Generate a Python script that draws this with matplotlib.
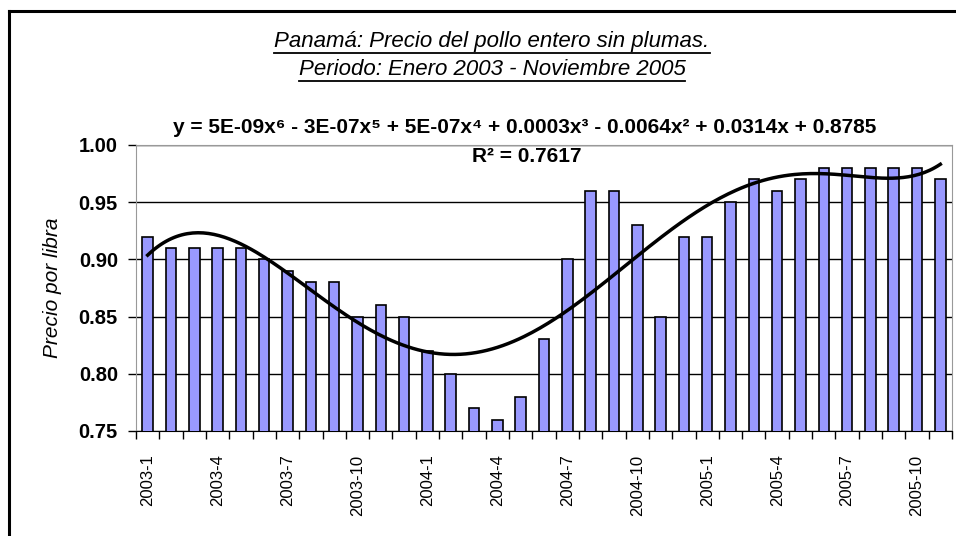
import numpy as np
import matplotlib.pyplot as plt
from matplotlib.lines import Line2D

plt.rcParams['font.family'] = ['Liberation Sans', 'DejaVu Sans']

# datos: precio mensual (B/. por libra)
meses = ['2003-%d' % m for m in range(1, 13)] + ['2004-%d' % m for m in range(1, 13)] + \
        ['2005-%d' % m for m in range(1, 12)]
precio = [0.92, 0.91, 0.91, 0.91, 0.91, 0.90, 0.89, 0.88, 0.88, 0.85, 0.86, 0.85,
          0.82, 0.80, 0.77, 0.76, 0.78, 0.83, 0.90, 0.96, 0.96, 0.93, 0.85, 0.92,
          0.92, 0.95, 0.97, 0.96, 0.97, 0.98, 0.98, 0.98, 0.98, 0.98, 0.97]
ecuacion = 'y = 5E-09x\u2076 - 3E-07x\u2075 + 5E-07x\u2074 + 0.0003x\u00b3 - 0.0064x\u00b2 + 0.0314x + 0.8785'
r2 = 'R\u00b2 = 0.7617'

fig = plt.figure(figsize=(9.56, 5.36), dpi=100)
ax = fig.add_axes([136 / 956, 1 - 431 / 536, (952 - 136) / 956, (431 - 145) / 536])

x = np.arange(len(precio))
ax.bar(x, precio, width=0.45, color='#9999ff', edgecolor='black', linewidth=1.2, zorder=3)

# linea de tendencia polinomica orden 6 (x = 1..n, como en Excel)
coef = np.polyfit(x + 1, precio, 6)
xf = np.linspace(1, len(precio), 300)
ax.plot(xf - 1, np.polyval(coef, xf), color='black', lw=2.5, zorder=4)

ax.set_ylim(0.75, 1.00)
ax.set_xlim(-0.5, len(precio) - 0.5)
yt = [0.75, 0.80, 0.85, 0.90, 0.95, 1.00]
ax.set_yticks(yt)
ax.set_yticklabels(['%.2f' % v for v in yt], fontsize=14.5, fontweight='bold')
ax.yaxis.grid(True, color='black', lw=1, zorder=0)
ax.tick_params(axis='y', direction='out', length=6, width=1, color='black', pad=7)

ax.set_xticks(x[::3])
ax.set_xticklabels(meses[::3], rotation=90, fontsize=12)
ax.set_xticks(np.arange(-0.5, len(precio)), minor=True)
ax.tick_params(axis='x', which='major', length=0, pad=17)
ax.tick_params(axis='x', which='minor', direction='out', length=6, width=1, color='black')

for s in ['top', 'right', 'left']:
    ax.spines[s].set_color('#999999')
ax.spines['bottom'].set_color('black')

ax.set_ylabel('Precio por libra', fontsize=15, fontstyle='italic', labelpad=12)

# marco exterior
fig.add_artist(Line2D([9 / 956, 9 / 956], [0, 1 - 11 / 536], color='black', lw=2.2))
fig.add_artist(Line2D([9 / 956, 1], [1 - 11 / 536, 1 - 11 / 536], color='black', lw=2.2))

t1 = fig.text(492 / 956, 1 - 47 / 536, 'Panamá: Precio del pollo entero sin plumas.',
              ha='center', va='baseline', fontsize=16, fontstyle='italic')
t2 = fig.text(492 / 956, 1 - 75 / 536, 'Periodo: Enero 2003 - Noviembre 2005',
              ha='center', va='baseline', fontsize=16, fontstyle='italic')
fig.text(525 / 956, 1 - 133 / 536, ecuacion, ha='center', va='baseline',
         fontsize=15, fontweight='bold')
fig.text(527 / 956, 1 - 162 / 536, r2, ha='center', va='baseline',
         fontsize=15, fontweight='bold')

# subrayado de los titulos
fig.canvas.draw()
r = fig.canvas.get_renderer()
for t in [t1, t2]:
    bb = t.get_window_extent(r)
    yy = (bb.y0 - 1) / fig.bbox.height
    fig.add_artist(Line2D([bb.x0 / fig.bbox.width, bb.x1 / fig.bbox.width], [yy, yy],
                          color='black', lw=1.3))

fig.savefig('out.png', dpi=100)
